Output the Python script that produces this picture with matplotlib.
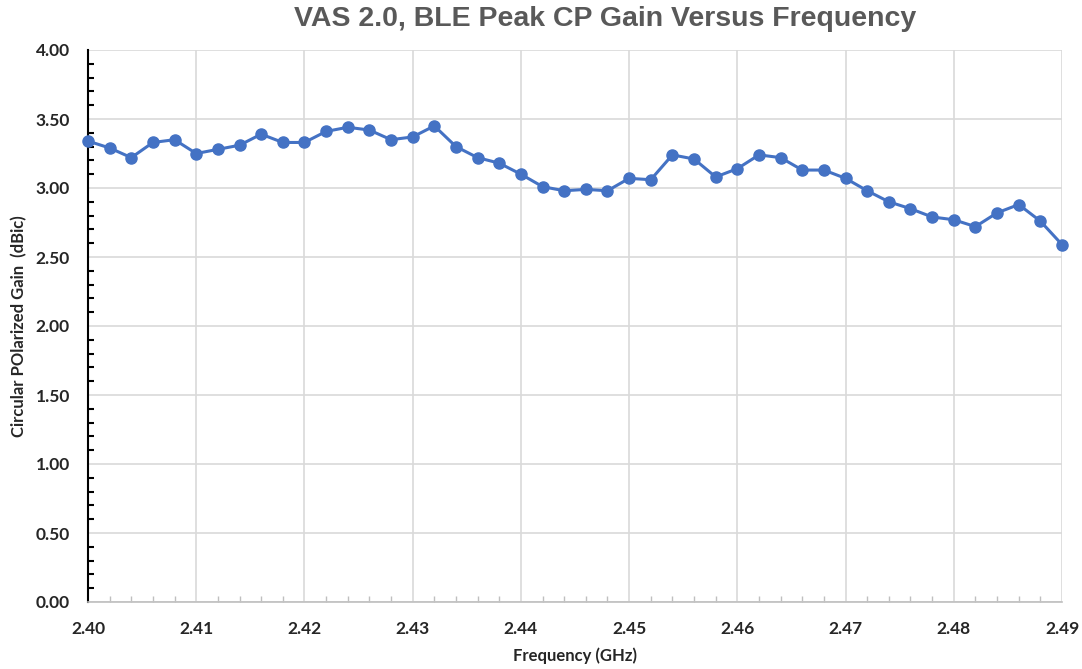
import matplotlib
matplotlib.use("Agg")
import matplotlib.pyplot as plt
import numpy as np
from matplotlib.ticker import MultipleLocator, FormatStrFormatter

freq_ghz = [2.400, 2.402, 2.404, 2.406, 2.408, 2.410, 2.412, 2.414, 2.416, 2.418,
            2.420, 2.422, 2.424, 2.426, 2.428, 2.430, 2.432, 2.434, 2.436, 2.438,
            2.440, 2.442, 2.444, 2.446, 2.448, 2.450, 2.452, 2.454, 2.456, 2.458,
            2.460, 2.462, 2.464, 2.466, 2.468, 2.470, 2.472, 2.474, 2.476, 2.478,
            2.480, 2.482, 2.484, 2.486, 2.488, 2.490]
gain_dbic = [3.34, 3.29, 3.22, 3.33, 3.35, 3.25, 3.28, 3.31, 3.39, 3.33,
             3.33, 3.41, 3.44, 3.42, 3.35, 3.37, 3.45, 3.30, 3.22, 3.18,
             3.10, 3.01, 2.98, 2.99, 2.98, 3.07, 3.06, 3.24, 3.21, 3.08,
             3.14, 3.24, 3.22, 3.13, 3.13, 3.07, 2.98, 2.90, 2.85, 2.79,
             2.77, 2.72, 2.82, 2.88, 2.76, 2.59]

title = "VAS 2.0, BLE Peak CP Gain Versus Frequency"
xlabel = "Frequency (GHz)"
ylabel = "Circular POlarized Gain  (dBic)"

fig = plt.figure(figsize=(10.82, 6.69), dpi=100)
ax = fig.add_axes([88/1082, 1-602/669, (1062-88)/1082, (602-50)/669])

ax.plot(freq_ghz, gain_dbic, color="#4472C4", lw=2.2, marker="o", ms=8,
        markerfacecolor="#4472C4", markeredgecolor="#4472C4", zorder=3, clip_on=False)

ax.set_xlim(2.40, 2.49)
ax.set_ylim(0, 4.0)
ax.xaxis.set_major_locator(MultipleLocator(0.01))
ax.xaxis.set_minor_locator(MultipleLocator(0.002))
ax.yaxis.set_major_locator(MultipleLocator(0.5))
ax.yaxis.set_minor_locator(MultipleLocator(0.1))
ax.xaxis.set_major_formatter(FormatStrFormatter("%.2f"))
ax.yaxis.set_major_formatter(FormatStrFormatter("%.2f"))

ax.grid(True, which="major", color="#D9D9D9", lw=1.2, zorder=0)
ax.set_axisbelow(True)

for s in ["top", "right"]:
    ax.spines[s].set_visible(False)
ax.spines["left"].set_color("black")
ax.spines["left"].set_linewidth(1.5)
ax.spines["bottom"].set_color("#BFBFBF")
ax.spines["bottom"].set_linewidth(1.2)

ax.tick_params(axis="y", which="major", direction="in", length=0, pad=13)
ax.tick_params(axis="y", which="minor", direction="in", length=4, width=1.5, color="black")
ax.tick_params(axis="x", which="major", direction="in", length=0, pad=14)
ax.tick_params(axis="x", which="minor", direction="in", length=4, width=1.0, color="#BFBFBF")

fam = ["Lato", "DejaVu Sans"]
for lab in ax.get_xticklabels() + ax.get_yticklabels():
    lab.set_fontfamily(fam)
    lab.set_fontweight("bold")
    lab.set_fontsize(12.5)
    lab.set_color("#262626")

ax.set_xlabel(xlabel, fontsize=12, fontweight="bold", family=fam, color="#262626", labelpad=7)
ax.set_ylabel(ylabel, fontsize=12, fontweight="bold", family=fam, color="#262626", labelpad=6)

fig.text(0.559, 0.972, title, ha="center", va="center", fontsize=20.5, fontweight="bold",
         family=["Liberation Sans", "DejaVu Sans"], color="#595959")

fig.savefig("out.png", dpi=100)
